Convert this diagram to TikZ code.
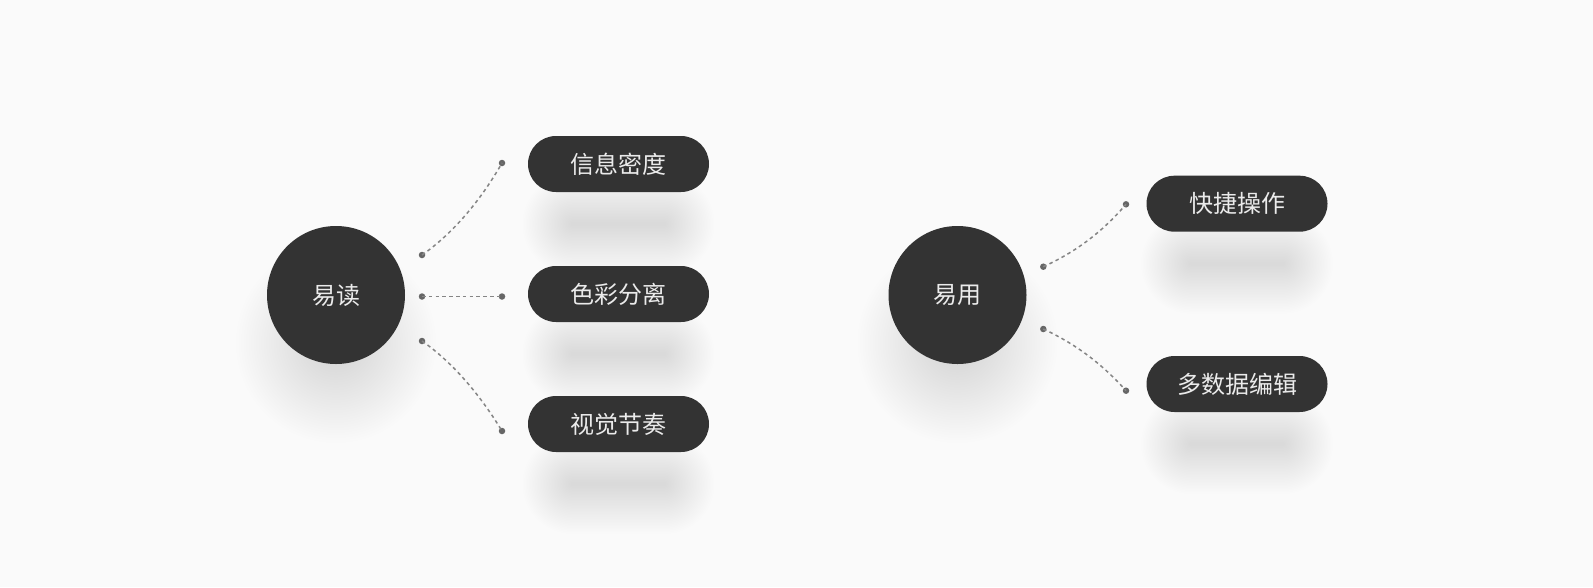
\documentclass[tikz,border=0pt]{standalone}
\usepackage{fontspec}
\newfontfamily\cjk{Noto Sans CJK SC}
\definecolor{bg}{HTML}{FAFAFA}
\definecolor{dark}{HTML}{333333}
\definecolor{txt}{HTML}{EBEBEB}
\definecolor{dotc}{HTML}{666666}
\definecolor{linec}{HTML}{858585}
% soft shadow of a circle: centre x, centre y, base radius
\newcommand\myshadowcircle[3]{%
  \foreach \i in {0,...,31}{%
    \pgfmathsetmacro\rr{#3-38+\i*78/31}%
    \fill[black, opacity=0.0042] (#1,#2) circle[radius=\rr];
  }}
% soft shadow of a pill: centre x, centre y, half width, half height
\newcommand\myshadowpill[4]{%
  \foreach \i in {0,...,31}{%
    \pgfmathsetmacro\dd{-12+\i*48/31}%
    \pgfmathsetmacro\hh{#4+\dd}%
    \fill[black, opacity=0.0036, rounded corners=\hh pt] (#1-#3-\dd,#2-\hh) rectangle (#1+#3+\dd,#2+\hh);
  }}
\begin{document}
\begin{tikzpicture}[x=1pt,y=-1pt,
  hub/.style={circle, fill=dark, minimum size=138pt, inner sep=0pt, text=txt,
    font=\cjk\fontsize{24}{28}\selectfont},
  pill/.style={rectangle, rounded corners=28pt, fill=dark, minimum width=181pt, minimum height=56pt, inner sep=0pt, text=txt,
    font=\cjk\fontsize{24}{28}\selectfont},
  dotn/.style={circle, fill=dotc, inner sep=0pt, minimum size=6.5pt},
  link/.style={draw=linec, line width=1.5pt, dash pattern=on 3.5pt off 3.3pt}]
\fill[bg] (0,0) rectangle (1593,587);
\useasboundingbox (0,0) rectangle (1593,587);

% shadows
\myshadowcircle{336}{343}{60}
\myshadowcircle{957.5}{343}{60}
\myshadowpill{618.5}{224}{60}{14}
\myshadowpill{618.5}{354}{60}{14}
\myshadowpill{618.5}{484}{60}{14}
\myshadowpill{1237}{263.7}{60}{14}
\myshadowpill{1237}{444}{60}{14}

% left group
\node[hub] (h1) at (336,295) {易读};
\node[pill] (p1) at (618.5,164) {信息密度};
\node[pill] (p2) at (618.5,294) {色彩分离};
\node[pill] (p3) at (618.5,424) {视觉节奏};

\node[dotn] (a1) at (422,255) {};
\node[dotn] (b1) at (502,163) {};
\node[dotn] (a2) at (422,296.5) {};
\node[dotn] (b2) at (502,296.5) {};
\node[dotn] (a3) at (422,341) {};
\node[dotn] (b3) at (502,431) {};

\draw[link] (a1.center) .. controls (455,232) and (482,198) .. (b1.center);
\draw[link] (a2.center) -- (b2.center);
\draw[link] (a3.center) .. controls (455,364) and (482,398) .. (b3.center);

% right group
\node[hub] (h2) at (957.5,295) {易用};
\node[pill] (q1) at (1237,203.7) {快捷操作};
\node[pill] (q2) at (1237,384) {多数据编辑};

\node[dotn] (c1) at (1043.3,266.7) {};
\node[dotn] (d1) at (1126,204.3) {};
\node[dotn] (c2) at (1043.3,329) {};
\node[dotn] (d2) at (1126,390.7) {};

\draw[link] (c1.center) .. controls (1078,251) and (1104,230) .. (d1.center);
\draw[link] (c2.center) .. controls (1078,345) and (1104,366) .. (d2.center);
\end{tikzpicture}
\end{document}
